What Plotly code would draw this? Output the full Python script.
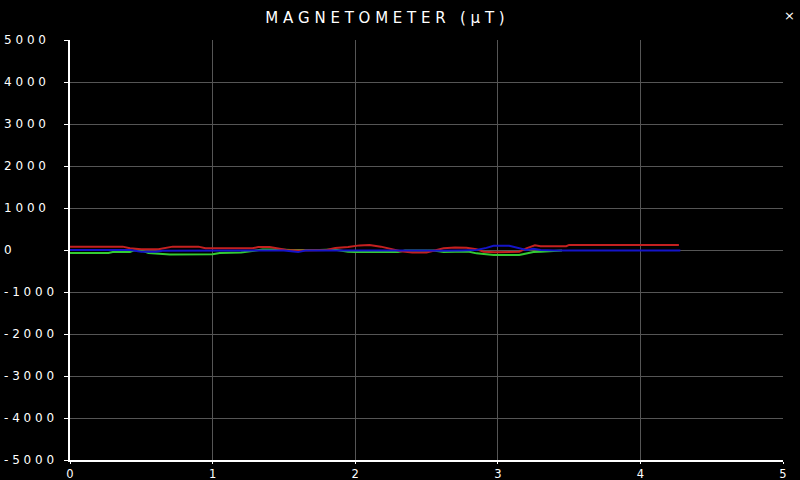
import plotly.graph_objects as go

# magnetometer readings (uT) vs time (s)
x_t = [0, 0.37, 0.42, 0.5, 0.62, 0.68, 0.72, 0.9, 0.95, 1.28, 1.32, 1.4, 1.45, 1.52, 1.6,
       1.8, 1.86, 1.95, 2.03, 2.1, 2.18, 2.25, 2.32, 2.4, 2.5, 2.55, 2.62, 2.7, 2.78, 2.85,
       2.9, 2.98, 3.15, 3.2, 3.26, 3.3, 3.48, 3.5, 4.27]
x_val = [80, 80, 40, 20, 20, 60, 80, 80, 40, 40, 70, 70, 40, 0, -10,
         0, 50, 70, 110, 120, 80, 20, -30, -60, -60, -20, 40, 60, 55, 20,
         -40, -55, -40, 40, 110, 90, 90, 120, 120]

y_t = [0, 0.27, 0.3, 0.42, 0.45, 0.5, 0.55, 0.6, 0.65, 0.7, 1.0, 1.05, 1.2, 1.25, 1.3,
       1.35, 1.45, 1.55, 1.75, 1.85, 1.95, 2.0, 2.3, 2.35, 2.55, 2.62, 2.7, 2.8, 2.85,
       2.92, 2.97, 3.15, 3.2, 3.25, 3.3, 3.45]
y_val = [-70, -70, -50, -50, -10, -10, -70, -80, -100, -110, -100, -70, -60, -40, -10,
         10, 10, 0, 0, 10, -40, -50, -50, -10, -10, -50, -40, -40, -80,
         -100, -120, -120, -80, -50, -40, -10]

z_t = [0, 0.42, 0.5, 0.6, 0.65, 1.3, 1.5, 1.6, 1.65, 2.5, 2.6, 2.75, 2.85, 2.92, 2.97,
       3.08, 3.15, 3.2, 3.25, 3.3, 3.4, 4.28]
z_val = [0, 0, -40, -40, -20, -20, -10, -50, -10, -10, -20, -10, 0, 50, 100,
         100, 40, 0, 30, 0, -10, -10]

y_ticks = [5000, 4000, 3000, 2000, 1000, 0, -1000, -2000, -3000, -4000, -5000]
x_ticks = [0, 1, 2, 3, 4, 5]

FONT = "DejaVu Sans"
# plot area in page pixels: x 70..783, y 40..460
PW, PH = 713, 420


def spaced(s):
    # the original draws its text letter-spaced
    return " ".join(s)


fig = go.Figure()
fig.add_trace(go.Scatter(x=y_t, y=y_val, mode="lines", line=dict(color="#33cc33", width=2), name="y"))
fig.add_trace(go.Scatter(x=x_t, y=x_val, mode="lines", line=dict(color="#c42020", width=2), name="x"))
fig.add_trace(go.Scatter(x=z_t, y=z_val, mode="lines", line=dict(color="#1414c8", width=2), name="z"))

# y labels are left aligned at the page edge in the original
for v in y_ticks:
    fig.add_annotation(x=-68 / PW, xref="paper", y=v, yref="y", text=spaced(str(v)),
                       showarrow=False, xanchor="left", yanchor="middle",
                       font=dict(family=FONT, size=12, color="white"))

# little close mark in the top right corner
fig.add_annotation(x=(789 - 70) / PW, y=(460 - 16) / PH, xref="paper", yref="paper", text="×",
                   showarrow=False, xanchor="center", yanchor="middle",
                   font=dict(family=FONT, size=13, color="white"))

fig.update_layout(
    width=800, height=480,
    paper_bgcolor="black", plot_bgcolor="black",
    margin=dict(l=70, r=17, t=40, b=20),
    showlegend=False,
    title=dict(text=spaced("MAGNETOMETER") + "   " + spaced("(µT)"), x=385 / 800, xanchor="center",
               y=1 - 18 / 480, yanchor="middle",
               font=dict(family=FONT, size=15, color="white")),
    xaxis=dict(range=[0, 5], tickvals=x_ticks, ticktext=[str(t) for t in x_ticks],
               automargin=False,
               showgrid=True, gridcolor="#555555", gridwidth=1, zeroline=False,
               showline=True, linecolor="white", linewidth=2,
               ticks="outside", ticklen=2, tickcolor="white",
               tickfont=dict(family=FONT, size=11.5, color="white")),
    yaxis=dict(range=[-5000, 5000], tickvals=y_ticks, showticklabels=False,
               automargin=False,
               showgrid=True, gridcolor="#555555", gridwidth=1, zeroline=False,
               showline=True, linecolor="white", linewidth=2,
               ticks="outside", ticklen=4, tickcolor="white"),
)

# page has a default body margin; drop it so the figure fills the window
fig.write_html("out.html", config={"displayModeBar": False},
               post_script="document.body.style.margin='0px';")
